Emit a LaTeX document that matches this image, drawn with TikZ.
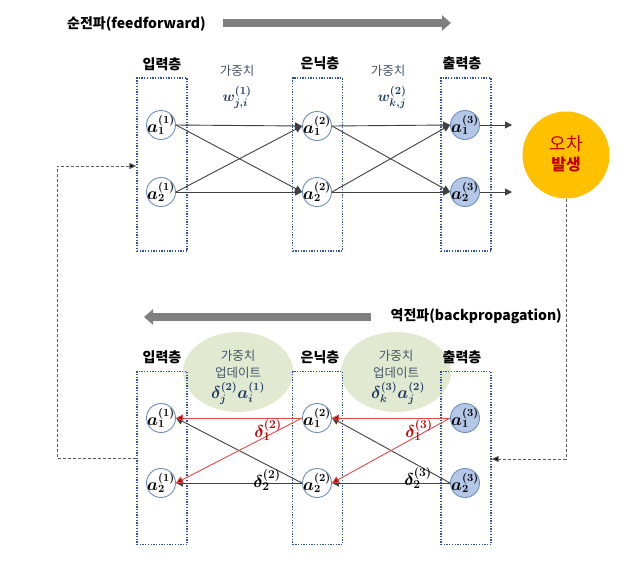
\documentclass[tikz,border=0pt]{standalone}
\usepackage[no-math]{fontspec}
\usepackage{bm}
\usetikzlibrary{arrows.meta,shapes.geometric}
\newfontfamily\krfont{Noto Sans CJK KR}
\definecolor{boxblue}{HTML}{2F5496}
\definecolor{nodeblue}{HTML}{6C8EBF}
\definecolor{outfill}{HTML}{B4C7E7}
\definecolor{updgreen}{HTML}{E1EAD0}
\definecolor{errorange}{HTML}{FFC000}
\definecolor{redtext}{HTML}{C00000}
\definecolor{redline}{HTML}{E04A4A}
\definecolor{mathblue}{HTML}{1F3864}
\definecolor{slate}{HTML}{44546A}
\definecolor{arrowgray}{HTML}{7F7F7F}
\definecolor{dashgray}{HTML}{595959}
\definecolor{linedark}{HTML}{404040}
\tikzset{
  layerbox/.style={draw=boxblue, line width=1.3pt, dash pattern=on 1.3pt off 1.4pt, minimum width=50pt, minimum height=173pt, inner sep=0pt},
  mlab/.style={font=\fontsize{16}{16}\selectfont, inner sep=0pt},
  neuron/.style={circle, draw=nodeblue, line width=0.9pt, fill=white, minimum size=29pt, inner sep=0pt},
  outneuron/.style={neuron, fill=outfill},
  laylab/.style={font=\krfont\bfseries\fontsize{14}{16}\selectfont, inner sep=0pt},
  wtext/.style={font=\krfont\fontsize{12.5}{14}\selectfont, text=slate, inner sep=0pt},
  wmath/.style={font=\fontsize{15}{15}\selectfont, text=mathblue, inner sep=0pt},
  titletext/.style={font=\krfont\bfseries\fontsize{14}{16}\selectfont, inner sep=0pt},
  fwdline/.style={draw=linedark, line width=0.9pt, -{Triangle[length=7pt,width=7pt]}},
  backline/.style={draw=linedark, line width=0.9pt, -{Triangle[length=7pt,width=7pt]}},
  redconn/.style={draw=redline, line width=0.9pt, -{Triangle[length=7pt,width=7pt,fill=redtext]}},
  fbline/.style={draw=dashgray, line width=1pt, dash pattern=on 3pt off 2pt, -{Triangle[length=7pt,width=6pt,fill=black]}},
  bigarrow/.style={draw=arrowgray, line width=7.5pt, -{Triangle[length=9pt,width=15pt]}},
  updell/.style={ellipse, fill=updgreen, minimum width=110pt, minimum height=80pt, inner sep=0pt},
  dlab/.style={font=\fontsize{17}{17}\selectfont, inner sep=0pt}
}
\begin{document}
\begin{tikzpicture}[x=1pt,y=-1pt]
\useasboundingbox[fill=white] (0,0) rectangle (640,566);

% ---------- feedforward ----------
\node[titletext, anchor=west] (ftitle) at (67,24) {순전파(feedforward)};
\coordinate (fa) at (223,23);
\coordinate (fb) at (451,23);
\draw[bigarrow] (fa) -- (fb);

\node[layerbox] (inT) at (162,164.5) {};
\node[layerbox] (hidT) at (317.5,164.5) {};
\node[layerbox] (outT) at (466,164.5) {};

\node[laylab] (linT) at (162,64) {입력층};
\node[laylab] (lhidT) at (320,63) {은닉층};
\node[laylab] (loutT) at (462,63) {출력층};

\node[wtext] (g1) at (237,71) {가중치};
\node[wmath] (w1) at (237,97) {$\bm{w^{(1)}_{j,i}}$};
\node[wtext] (g2) at (388,71) {가중치};
\node[wmath] (w2) at (392,97) {$\bm{w^{(2)}_{k,j}}$};

\node[neuron, label={[mlab]center:$\bm{a_1^{(1)}}$}] (i1) at (161,125) {};
\node[neuron, label={[mlab]center:$\bm{a_2^{(1)}}$}] (i2) at (161,192) {};
\node[neuron, label={[mlab]center:$\bm{a_1^{(2)}}$}] (h1) at (317,126) {};
\node[neuron, label={[mlab]center:$\bm{a_2^{(2)}}$}] (h2) at (317,192) {};
\node[outneuron, label={[mlab]center:$\bm{a_1^{(3)}}$}] (o1) at (465,125) {};
\node[outneuron, label={[mlab]center:$\bm{a_2^{(3)}}$}] (o2) at (465,192) {};

\draw[fwdline] (i1.east) -- (h1.west);
\draw[fwdline] (i1.east) -- (h2.west);
\draw[fwdline] (i2.east) -- (h1.west);
\draw[fwdline] (i2.east) -- (h2.west);
\draw[fwdline] (h1.east) -- (o1.west);
\draw[fwdline] (h1.east) -- (o2.west);
\draw[fwdline] (h2.east) -- (o1.west);
\draw[fwdline] (h2.east) -- (o2.west);
\coordinate (o1r) at (512,125);
\coordinate (o2r) at (512,192);
\draw[fwdline] (o1.east) -- (o1r);
\draw[fwdline] (o2.east) -- (o2r);

\node[circle, fill=errorange, minimum size=87pt, inner sep=0pt] (err) at (566,155) {};
\node[font=\krfont\fontsize{18}{18}\selectfont, text=redtext, inner sep=0pt] (errt1) at (566,144) {오차};
\node[font=\krfont\bfseries\fontsize{16}{16}\selectfont, text=redtext, inner sep=0pt] (errt2) at (566,165) {발생};

% ---------- backpropagation ----------
\node[titletext, anchor=east] (btitle) at (562,316) {역전파(backpropagation)};
\coordinate (ba) at (371,317);
\coordinate (bb) at (144,317);
\draw[bigarrow] (ba) -- (bb);

\node[updell] (e1) at (238,372) {};
\node[updell] (e2) at (396,372) {};

\node[layerbox] (inB) at (162,458) {};
\node[layerbox] (hidB) at (317.5,458) {};
\node[layerbox] (outB) at (466,458) {};

\node[laylab] (linB) at (162,357) {입력층};
\node[laylab] (lhidB) at (320,357) {은닉층};
\node[laylab] (loutB) at (462,357) {출력층};

\node[wtext] (eg1) at (238,356) {가중치};
\node[wtext] (eu1) at (238,373) {업데이트};
\node[wmath, font=\fontsize{16}{16}\selectfont] (ef1) at (238,393) {$\bm{\delta_j^{(2)}a_i^{(1)}}$};
\node[wtext] (eg2) at (396,356) {가중치};
\node[wtext] (eu2) at (396,373) {업데이트};
\node[wmath, font=\fontsize{16}{16}\selectfont] (ef2) at (398,393) {$\bm{\delta_k^{(3)}a_j^{(2)}}$};

\node[neuron, label={[mlab]center:$\bm{a_1^{(1)}}$}] (bi1) at (161,418) {};
\node[neuron, label={[mlab]center:$\bm{a_2^{(1)}}$}] (bi2) at (161,483) {};
\node[neuron, label={[mlab]center:$\bm{a_1^{(2)}}$}] (bh1) at (317,418) {};
\node[neuron, label={[mlab]center:$\bm{a_2^{(2)}}$}] (bh2) at (317,483) {};
\node[outneuron, label={[mlab]center:$\bm{a_1^{(3)}}$}] (bo1) at (465,418) {};
\node[outneuron, label={[mlab]center:$\bm{a_2^{(3)}}$}] (bo2) at (465,483) {};

\draw[backline] (bo2.west) -- (bh2.east);
\draw[backline] (bo2.west) -- (bh1.east);
\draw[backline] (bh2.west) -- (bi2.east);
\draw[backline] (bh2.west) -- (bi1.east);
\draw[redconn] (bo1.west) -- (bh1.east);
\draw[redconn] (bo1.west) -- (bh2.east);
\draw[redconn] (bh1.west) -- (bi1.east);
\draw[redconn] (bh1.west) -- (bi2.east);

\node[dlab, text=redtext] (d12) at (268,430) {$\bm{\delta_1^{(2)}}$};
\node[dlab] (d22) at (267,480) {$\bm{\delta_2^{(2)}}$};
\node[dlab, text=redtext] (d13) at (419,430) {$\bm{\delta_1^{(3)}}$};
\node[dlab] (d23) at (418,478) {$\bm{\delta_2^{(3)}}$};

% ---------- feedback dashed paths ----------
\coordinate (R1) at (566,459);
\draw[fbline] (err.south) -- (R1) -- (outB.east |- R1);
\coordinate (L1) at (57,458);
\coordinate (L2) at (57,166);
\draw[fbline] (inB.west |- L1) -- (L1) -- (L2) -- (inT.west |- L2);
\end{tikzpicture}
\end{document}
